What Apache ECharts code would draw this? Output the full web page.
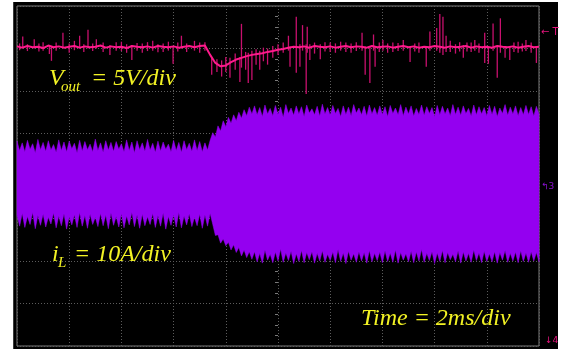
<!DOCTYPE html>
<html>
<head>
<meta charset="utf-8">
<script src="https://cdn.jsdelivr.net/npm/echarts@6/dist/echarts.min.js"></script>
<style>
  html, body { margin: 0; padding: 0; background: #fff; }
  #chart { width: 563px; height: 349px; }
</style>
</head>
<body>
<div id="chart"></div>
<script>
// scope screen in divisions, origin at the centre of the graticule
const T_START = -5
const VOUT_STEP = 0.1   // Vout samples every 0.1 div
const IL_STEP = 0.05    // iL envelope samples every 0.05 div

// Vout trace (5 V/div), baseline samples
const voutBase = [
  3.05, 3.02, 3.06, 3.03, 3.04, 3.01, 3.07, 3.03, 3.05, 3.02,
  3.04, 3.06, 3.02, 3.05, 3.03, 3.04, 3.07, 3.02, 3.05, 3.03,
  3.04, 3.01, 3.06, 3.04, 3.03, 3.05, 3.02, 3.06, 3.04, 3.03,
  3.05, 3.02, 3.04, 3.06, 3.03, 3.06, 3.07, 2.85, 2.66, 2.58,
  2.60, 2.68, 2.74, 2.78, 2.82, 2.85, 2.87, 2.89, 2.92, 2.94,
  2.97, 2.99, 3.02, 3.04, 3.03, 3.05, 3.02, 3.06, 3.04, 3.03,
  3.05, 3.02, 3.04, 3.06, 3.03, 3.05, 3.04, 3.02, 3.06, 3.03,
  3.04, 3.05, 3.02, 3.04, 3.06, 3.03, 3.05, 3.02, 3.04, 3.03,
  3.06, 3.04, 3.02, 3.05, 3.03, 3.04, 3.06, 3.02, 3.05, 3.03,
  3.04, 3.02, 3.06, 3.04, 3.03, 3.05, 3.02, 3.04, 3.06, 3.03,
  3.04
]

// Vout glitches: [time, low, high]
const voutSpikes = [
  [-4.95, 2.96, 3.12], [-4.89, 3.00, 3.28], [-4.80, 2.94, 3.10], [-4.67, 3.00, 3.22],
  [-4.58, 2.93, 3.12], [-4.50, 2.95, 3.15], [-4.38, 2.87, 3.08], [-4.34, 2.71, 3.06],
  [-4.25, 2.95, 3.14], [-4.12, 3.00, 3.37], [-4.00, 2.90, 3.12], [-3.90, 2.96, 3.18],
  [-3.80, 3.00, 3.30], [-3.72, 2.92, 3.10], [-3.64, 3.00, 3.44], [-3.55, 2.94, 3.12],
  [-3.48, 3.00, 3.22], [-3.35, 2.92, 3.14], [-3.22, 2.85, 3.08], [-3.10, 2.95, 3.15],
  [-3.00, 2.94, 3.16], [-2.90, 2.90, 3.10], [-2.80, 2.73, 3.08], [-2.70, 2.95, 3.13],
  [-2.60, 2.90, 3.12], [-2.50, 2.94, 3.15], [-2.40, 2.95, 3.18], [-2.30, 2.91, 3.10],
  [-2.20, 2.92, 3.12], [-2.10, 2.95, 3.16], [-2.01, 2.64, 3.06], [-1.92, 2.93, 3.14],
  [-1.85, 3.00, 3.30], [-1.75, 2.92, 3.12], [-1.60, 2.95, 3.18], [-1.50, 2.90, 3.14],
  [-1.40, 2.95, 3.15], [-1.27, 2.38, 2.80], [-1.17, 2.45, 2.75], [-1.08, 2.34, 2.72],
  [-1.00, 2.45, 2.80], [-0.92, 2.31, 2.78], [-0.82, 2.50, 2.88], [-0.73, 2.21, 2.80],
  [-0.70, 2.55, 3.58], [-0.62, 2.50, 2.92], [-0.57, 2.19, 2.90], [-0.50, 2.26, 2.95],
  [-0.42, 2.62, 2.98], [-0.35, 2.50, 2.95], [-0.28, 2.70, 3.02], [-0.20, 2.62, 3.00],
  [-0.10, 2.78, 3.06], [0.00, 2.85, 3.10], [0.10, 2.90, 3.14],
  [0.20, 2.95, 3.30], [0.23, 2.57, 3.05], [0.35, 2.43, 3.75], [0.42, 2.57, 3.10],
  [0.47, 2.95, 3.55], [0.54, 1.93, 3.10], [0.56, 2.90, 3.51], [0.61, 2.73, 3.10],
  [0.70, 2.88, 3.14], [0.81, 2.75, 3.10], [0.90, 2.93, 3.15], [1.00, 2.92, 3.14],
  [1.10, 2.90, 3.12], [1.20, 2.95, 3.16], [1.30, 2.92, 3.14], [1.40, 2.90, 3.12],
  [1.50, 2.94, 3.15], [1.61, 2.95, 3.37], [1.67, 2.38, 3.05], [1.76, 2.19, 3.05],
  [1.83, 2.95, 3.33], [1.86, 2.57, 3.05], [1.94, 2.92, 3.14], [2.01, 2.95, 3.20],
  [2.10, 2.90, 3.12], [2.20, 2.92, 3.14], [2.30, 2.94, 3.13], [2.40, 2.95, 3.20],
  [2.53, 2.68, 3.05], [2.62, 2.93, 3.12], [2.70, 2.90, 3.14], [2.84, 2.57, 3.05],
  [2.91, 2.95, 3.40], [3.04, 2.95, 3.48], [3.10, 2.90, 3.81], [3.16, 2.85, 3.75],
  [3.22, 2.92, 3.30], [3.30, 2.92, 3.18], [3.40, 2.88, 3.10], [3.48, 2.93, 3.15],
  [3.55, 2.78, 3.08], [3.62, 2.93, 3.14], [3.70, 2.92, 3.14], [3.77, 2.95, 3.20],
  [3.85, 2.90, 3.12], [3.96, 2.66, 3.37], [4.03, 2.64, 3.05], [4.12, 2.95, 3.59],
  [4.20, 2.31, 3.05], [4.26, 2.90, 3.71], [4.35, 2.78, 3.05], [4.44, 2.73, 3.05],
  [4.52, 2.92, 3.14], [4.60, 2.90, 3.16], [4.68, 2.93, 3.12], [4.75, 2.94, 3.20],
  [4.85, 2.90, 3.14], [4.95, 2.66, 3.05]
]

// iL (10 A/div), ripple envelope: upper and lower edge of the band
const ilUpper = [
  0.82, 0.60, 0.78, 0.57, 0.84, 0.63, 0.76, 0.55, 0.86, 0.62,
  0.79, 0.58, 0.83, 0.61, 0.74, 0.56, 0.85, 0.60, 0.80, 0.57,
  0.82, 0.64, 0.77, 0.55, 0.84, 0.59, 0.81, 0.62, 0.75, 0.57,
  0.87, 0.60, 0.78, 0.56, 0.83, 0.61, 0.79, 0.58, 0.81, 0.63,
  0.76, 0.57, 0.85, 0.60, 0.80, 0.55, 0.83, 0.62, 0.78, 0.58,
  0.86, 0.61, 0.77, 0.56, 0.82, 0.59, 0.80, 0.63, 0.75, 0.57,
  0.84, 0.60, 0.79, 0.56, 0.83, 0.62, 0.77, 0.58, 0.85, 0.60,
  0.81, 0.57, 0.78, 0.61, 0.84,
  1.02, 0.92, 1.18, 1.06, 1.30, 1.16, 1.38, 1.24, 1.44, 1.30,
  1.50, 1.36, 1.56, 1.42, 1.62, 1.46,
  1.65, 1.44, 1.61, 1.40, 1.67, 1.46, 1.59, 1.42, 1.66, 1.45,
  1.62, 1.38, 1.68, 1.47, 1.60, 1.43, 1.65, 1.46, 1.63, 1.40,
  1.67, 1.48, 1.58, 1.44, 1.64, 1.41, 1.69, 1.46, 1.61, 1.43,
  1.66, 1.47, 1.59, 1.40, 1.65, 1.45, 1.62, 1.42, 1.68, 1.48,
  1.60, 1.44, 1.64, 1.41, 1.67, 1.46, 1.61, 1.43, 1.65, 1.45,
  1.63, 1.40, 1.66, 1.47, 1.60, 1.44, 1.68, 1.42, 1.62, 1.46,
  1.65, 1.41, 1.59, 1.45, 1.67, 1.43, 1.63, 1.47, 1.61, 1.40,
  1.66, 1.44, 1.64, 1.46, 1.60, 1.42, 1.68, 1.45, 1.62, 1.43,
  1.65, 1.47, 1.59, 1.41, 1.67, 1.44, 1.63, 1.46, 1.61, 1.42,
  1.66, 1.45, 1.64, 1.40, 1.60, 1.47, 1.68, 1.43, 1.62, 1.46,
  1.65, 1.42, 1.61, 1.44, 1.66, 1.45, 1.63, 1.41, 1.64, 1.46
]
const ilLower = [
  -0.92, -1.18, -0.88, -1.21, -0.95, -1.14, -0.86, -1.24, -0.93, -1.16,
  -0.90, -1.20, -0.97, -1.13, -0.87, -1.22, -0.94, -1.17, -0.89, -1.25,
  -0.96, -1.15, -0.91, -1.21, -0.86, -1.18, -0.93, -1.23, -0.90, -1.14,
  -0.97, -1.19, -0.88, -1.17, -0.92, -1.24, -0.87, -1.16, -0.95, -1.20,
  -0.89, -1.22, -0.94, -1.15, -0.86, -1.19, -0.92, -1.23, -0.90, -1.17,
  -0.96, -1.14, -0.88, -1.21, -0.93, -1.18, -0.87, -1.25, -0.95, -1.16,
  -0.91, -1.20, -0.86, -1.22, -0.94, -1.15, -0.89, -1.19, -0.97, -1.17,
  -0.90, -1.23, -0.92, -1.18, -0.88,
  -1.14, -1.40, -1.38, -1.58, -1.48, -1.64, -1.56, -1.74, -1.62, -1.80,
  -1.68, -1.88, -1.74, -1.92, -1.78, -1.96,
  -1.78, -2.02, -1.82, -2.05, -1.74, -1.98, -1.84, -2.04, -1.79, -2.00,
  -1.72, -2.03, -1.81, -1.99, -1.77, -2.06, -1.83, -2.01, -1.75, -2.04,
  -1.80, -1.97, -1.78, -2.05, -1.82, -2.00, -1.76, -2.03, -1.84, -1.99,
  -1.79, -2.04, -1.73, -2.01, -1.81, -2.06, -1.77, -1.98, -1.83, -2.03,
  -1.78, -2.00, -1.80, -2.05, -1.75, -2.02, -1.82, -1.99, -1.79, -2.04,
  -1.76, -2.01, -1.81, -2.03, -1.74, -2.05, -1.80, -1.98, -1.83, -2.02,
  -1.77, -2.04, -1.79, -2.00, -1.73, -2.03, -1.82, -1.99, -1.78, -2.06,
  -1.81, -2.01, -1.75, -2.04, -1.80, -1.97, -1.84, -2.02, -1.76, -2.05,
  -1.79, -2.00, -1.82, -2.03, -1.74, -1.99, -1.81, -2.04, -1.77, -2.01,
  -1.83, -2.02, -1.78, -2.05, -1.80, -1.98, -1.75, -2.03, -1.82, -2.00,
  -1.79, -2.04, -1.76, -2.01, -1.81, -2.03, -1.78, -2.00, -1.80, -2.02
]

const PINK = '#ff1a8c'
const PINK_DARK = '#c8106e'
const VIOLET = '#9400f0'
const YELLOW = '#f2f224'
const GRID = '#5c5c5c'

const at = (i, step) => +(T_START + i * step).toFixed(2)

const chart = echarts.init(document.getElementById('chart'), null, { renderer: 'canvas' })

const serifText = (x, y, text, size) => ({
  type: 'text',
  z: 100,
  style: {
    x, y, text,
    fill: YELLOW,
    font: `italic ${size}px "Liberation Serif", "DejaVu Serif", serif`,
    verticalAlign: 'middle'
  }
})

const markText = (x, y, text, color, size) => ({
  type: 'text',
  z: 100,
  style: { x, y, text, fill: color, font: `${size}px "DejaVu Sans", sans-serif`, verticalAlign: 'middle' }
})

const centreAxis = (inside) => ({
  type: 'value',
  min: -4,
  max: 4,
  interval: 1,
  axisLine: { show: false, onZero: true, onZeroAxisIndex: 0 },
  axisTick: { show: false, inside },
  minorTick: { show: true, splitNumber: 4, length: 3, lineStyle: { color: '#7a7a7a', width: 1 } },
  axisLabel: { show: false },
  splitLine: { show: !inside, lineStyle: { color: GRID, type: [1, 2], width: 1 } }
})

chart.setOption({
  backgroundColor: '#ffffff',
  animation: false,
  grid: {
    left: 17, right: 24, top: 6, bottom: 3,
    show: true,
    backgroundColor: 'transparent',
    borderColor: '#7c7c7c',
    borderWidth: 1
  },
  xAxis: {
    type: 'value',
    min: -5,
    max: 5,
    interval: 1,
    axisLine: { show: false, onZero: true },
    axisTick: { show: false },
    minorTick: { show: true, splitNumber: 4, length: 3, lineStyle: { color: '#7a7a7a' } },
    axisLabel: { show: false },
    splitLine: { show: true, lineStyle: { color: GRID, type: [1, 2], width: 1 } }
  },
  yAxis: [centreAxis(false), centreAxis(true)],
  graphic: [
    { type: 'rect', z: -10, silent: true, shape: { x: 13, y: 2, width: 545, height: 347 }, style: { fill: '#000' } },
    { type: 'rect', z: -9, silent: true, shape: { x: 13, y: 2, width: 1, height: 347 }, style: { fill: '#3a3a3a' } },
    serifText(49, 79, 'V', 24),
    serifText(61, 87, 'out', 15),
    serifText(91, 79, '= 5V/div', 24),
    serifText(52, 255, 'i', 24),
    serifText(58, 263, 'L', 15),
    serifText(74, 255, '= 10A/div', 24),
    serifText(361, 319, 'Time = 2ms/div', 24),
    markText(541, 32, '\u2190 T', '#e8147f', 10),
    markText(541, 187, '\u21b03', '#8a10d0', 9),
    markText(545, 341, '\u21934', '#e8147f', 9)
  ],
  series: [
    {
      name: 'iL',
      type: 'custom',
      z: 3,
      silent: true,
      data: [0],
      renderItem: (params, api) => {
        const pts = []
        ilUpper.forEach((v, i) => pts.push(api.coord([at(i, IL_STEP), v])))
        for (let i = ilLower.length - 1; i >= 0; i--) pts.push(api.coord([at(i, IL_STEP), ilLower[i]]))
        return { type: 'polygon', shape: { points: pts }, style: { fill: VIOLET, stroke: VIOLET, lineWidth: 0.5 } }
      }
    },
    {
      name: 'Vout spikes',
      type: 'custom',
      z: 4,
      silent: true,
      data: voutSpikes,
      renderItem: (params, api) => {
        const a = api.coord([api.value(0), api.value(1)])
        const b = api.coord([api.value(0), api.value(2)])
        return {
          type: 'line',
          shape: { x1: a[0], y1: a[1], x2: b[0], y2: b[1] },
          style: { stroke: PINK_DARK, lineWidth: 1.3 }
        }
      }
    },
    {
      name: 'Vout',
      type: 'line',
      z: 5,
      silent: true,
      symbol: 'none',
      data: voutBase.map((v, i) => [at(i, VOUT_STEP), v]),
      lineStyle: { color: PINK, width: 2 }
    }
  ]
})
</script>
</body>
</html>
